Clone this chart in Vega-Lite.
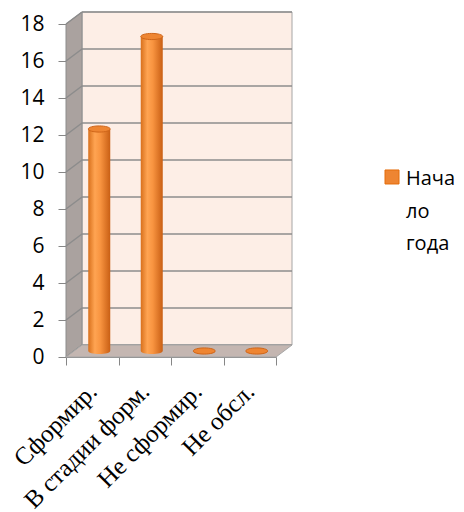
{
  "$schema": "https://vega.github.io/schema/vega-lite/v6.json",
  "width": 210,
  "height": 333,
  "autosize": {"type": "none"},
  "padding": {"left": 66, "top": 24, "right": 188, "bottom": 155},
  "background": "white",
  "datasets": {
    "bars": [
      {"cat": "Сформир.", "v": 12, "s": "Начало года"},
      {"cat": "В стадии форм.", "v": 17, "s": "Начало года"},
      {"cat": "Не сформир.", "v": 0, "s": "Начало года"},
      {"cat": "Не обсл.", "v": 0, "s": "Начало года"}
    ],
    "ticks": [
      {"t": 0}, {"t": 2}, {"t": 4}, {"t": 6}, {"t": 8},
      {"t": 10}, {"t": 12}, {"t": 14}, {"t": 16}, {"t": 18}
    ]
  },
  "config": {
    "view": {"stroke": null},
    "style": {"guide-label": {"lineHeight": 32.5}},
    "axis": {"labelOverlap": false},
    "axisQuantitative": {"labelOverlap": false, "tickCount": 10},
    "axisY": {"domainColor": "#868686", "tickColor": "#868686", "tickSize": 8, "labelFont": "Open Sans", "labelFontSize": 21, "labelColor": "#000000", "labelPadding": 14, "labelOverlap": false, "grid": false},
    "axisX": {"domainColor": "#868686", "tickColor": "#868686", "tickSize": 8, "tickBand": "extent", "labelFont": "Liberation Serif", "labelFontSize": 25, "labelColor": "#000000", "labelAngle": -45, "labelAlign": "right", "labelBaseline": "middle", "labelPadding": 22, "labelOverlap": false, "labelLimit": 0, "grid": false}
  },
  "layer": [
    {
      "data": {"values": [{}]},
      "mark": {"type": "rect", "fill": "#fdeee6", "stroke": "#a6a6a6", "strokeWidth": 1, "xOffset": 16, "x2Offset": 16, "yOffset": -12, "y2Offset": -12},
      "encoding": {
        "x": {"value": 0},
        "x2": {"value": "width"},
        "y": {"datum": 18, "type": "quantitative", "scale": {"domain": [0, 18], "nice": false, "zero": true}, "axis": {"title": null, "values": [0, 2, 4, 6, 8, 10, 12, 14, 16, 18], "labelOverlap": false, "labelSeparation": -10}},
        "y2": {"datum": 0}
      }
    },
    {
      "data": {"name": "ticks"},
      "mark": {"type": "rule", "stroke": "#8c8c8c", "strokeWidth": 1.5, "xOffset": 16, "x2Offset": 16, "yOffset": -12},
      "encoding": {
        "x": {"value": 0},
        "x2": {"value": "width"},
        "y": {"field": "t", "type": "quantitative", "axis": {"title": null, "values": [0, 2, 4, 6, 8, 10, 12, 14, 16, 18], "labelOverlap": false, "labelSeparation": -10}}
      }
    },
    {
      "data": {"values": [{}]},
      "mark": {"type": "point", "shape": "M -8 172.5 L -8 -160.5 L 8 -172.5 L 8 160.5 Z", "size": 4, "filled": true, "fill": "#aaa29f", "stroke": "#8c8c8c", "strokeWidth": 1, "opacity": 1, "xOffset": 8, "yOffset": -6},
      "encoding": {
        "x": {"datum": "Сформир.", "type": "nominal", "bandPosition": 0, "scale": {"type": "band", "domain": ["Сформир.", "В стадии форм.", "Не сформир.", "Не обсл."], "paddingInner": 0, "paddingOuter": 0}, "axis": {"title": null}},
        "y": {"datum": 9, "type": "quantitative", "axis": {"title": null, "values": [0, 2, 4, 6, 8, 10, 12, 14, 16, 18], "labelOverlap": false, "labelSeparation": -10}}
      }
    },
    {
      "data": {"name": "ticks"},
      "mark": {"type": "point", "shape": "M -8 6 L 8 -6", "size": 4, "filled": false, "stroke": "#8c8c8c", "strokeWidth": 1.5, "opacity": 1, "xOffset": 8, "yOffset": -6},
      "encoding": {
        "x": {"datum": "Сформир.", "type": "nominal", "bandPosition": 0},
        "y": {"field": "t", "type": "quantitative", "axis": {"title": null, "values": [0, 2, 4, 6, 8, 10, 12, 14, 16, 18], "labelOverlap": false, "labelSeparation": -10}}
      }
    },
    {
      "data": {"values": [{}]},
      "mark": {"type": "point", "shape": "M -113 6 L 97 6 L 113 -6 L -97 -6 Z", "size": 4, "filled": true, "fill": "#c4b6b1", "stroke": "#a6a6a6", "strokeWidth": 1, "opacity": 1, "xOffset": 8, "yOffset": -6},
      "encoding": {
        "x": {"datum": "Не сформир.", "type": "nominal", "bandPosition": 0},
        "y": {"datum": 0, "type": "quantitative", "axis": {"title": null, "values": [0, 2, 4, 6, 8, 10, 12, 14, 16, 18], "labelOverlap": false, "labelSeparation": -10}}
      }
    },
    {
      "data": {"name": "bars"},
      "mark": {
        "type": "bar", "width": 22, "xOffset": 7, "x2Offset": 7, "yOffset": -6, "y2Offset": -6,
        "fill": {"gradient": "linear", "x1": 0, "x2": 1, "y1": 0, "y2": 0, "stops": [
          {"offset": 0, "color": "#d8701c"},
          {"offset": 0.3, "color": "#ffa452"},
          {"offset": 0.55, "color": "#f89440"},
          {"offset": 1, "color": "#c95f14"}
        ]}
      },
      "encoding": {
        "x": {"field": "cat", "type": "nominal", "sort": null, "axis": {"title": null}},
        "y": {"field": "v", "type": "quantitative", "axis": {"title": null, "values": [0, 2, 4, 6, 8, 10, 12, 14, 16, 18], "labelOverlap": false, "labelSeparation": -10}}
      }
    },
    {
      "data": {"name": "bars"},
      "mark": {"type": "point", "shape": "M -1 0 A 1 0.28 0 0 0 1 0 Z", "size": 484, "filled": true, "opacity": 1, "strokeWidth": 0, "xOffset": 7, "yOffset": -6,
        "fill": {"gradient": "linear", "x1": 0, "x2": 1, "y1": 0, "y2": 0, "stops": [
          {"offset": 0, "color": "#d8701c"},
          {"offset": 0.3, "color": "#ffa452"},
          {"offset": 0.55, "color": "#f89440"},
          {"offset": 1, "color": "#c95f14"}
        ]}},
      "encoding": {
        "x": {"field": "cat", "type": "nominal", "sort": null},
        "y": {"datum": 0, "type": "quantitative", "axis": {"title": null, "values": [0, 2, 4, 6, 8, 10, 12, 14, 16, 18], "labelOverlap": false, "labelSeparation": -10}}
      }
    },
    {
      "data": {"name": "bars"},
      "mark": {"type": "point", "shape": "M -1 0 A 1 0.28 0 1 1 1 0 A 1 0.28 0 1 1 -1 0 Z", "size": 484, "filled": true, "opacity": 1, "stroke": "#cf6519", "strokeWidth": 1, "xOffset": 7, "yOffset": -6},
      "encoding": {
        "x": {"field": "cat", "type": "nominal", "sort": null},
        "y": {"field": "v", "type": "quantitative", "axis": {"title": null, "values": [0, 2, 4, 6, 8, 10, 12, 14, 16, 18], "labelOverlap": false, "labelSeparation": -10}},
        "color": {
          "field": "s", "type": "nominal",
          "scale": {"range": ["#ee8532"]},
          "legend": {
            "title": null, "orient": "none", "legendX": 316, "legendY": 135, "padding": 0,
            "symbolType": "M -1 0.14 L 1 0.14 L 1 2.14 L -1 2.14 Z", "symbolSize": 196, "symbolStrokeColor": "#e46c0a", "symbolStrokeWidth": 1, "symbolFillColor": "#f79646",
            "labelFont": "Open Sans", "labelFontSize": 20, "labelColor": "#000000", "labelOffset": 4,
            "labelBaseline": "top", "labelExpr": "['Нача', 'ло', 'года']", "labelLimit": 0
          }
        }
      }
    }
  ]
}
